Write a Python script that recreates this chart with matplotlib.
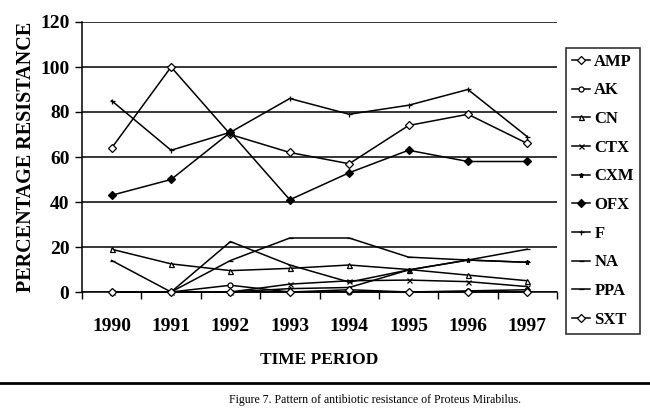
import matplotlib
matplotlib.use("Agg")
import matplotlib.pyplot as plt
from matplotlib.ticker import FixedLocator

years = ["1990", "1991", "1992", "1993", "1994", "1995", "1996", "1997"]

AMP = [64, 100, 70, 62, 57, 74, 79, 66]
AK = [0, 0, 3, 0, 0, 0, 0.5, 1]
CN = [19, 12.5, 9.5, 10.5, 12, 10, 7.5, 5]
CTX = [0, 0, 0, 3.5, 5, 5.3, 4.6, 2.4]
CXM = [0, 0, 0, 1.5, 2, 9.8, 14.2, 13.2]
OFX = [43, 50, 71, 41, 53, 63, 58, 58]
F = [85, 63, 71, 86, 79, 83, 90, 69]
NA = [14, 0, 22.4, 12, 4.4, 9.8, 14.2, 19]
PPA = [0, 0, 14, 24, 24, 15.5, 14.2, 13.2]
SXT = [0, 0, 0, 0, 1, 0, 0, 0]

series = [
    ("AMP", AMP, "D", "white"),
    ("AK", AK, "o", "white"),
    ("CN", CN, "^", "white"),
    ("CTX", CTX, "x", "black"),
    ("CXM", CXM, "*", "black"),
    ("OFX", OFX, "D", "black"),
    ("F", F, "+", "black"),
    ("NA", NA, "_", "black"),
    ("PPA", PPA, "_", "black"),
    ("SXT", SXT, "D", "white"),
]

plt.rcParams["font.family"] = ["Liberation Serif", "DejaVu Serif"]

fig = plt.figure(figsize=(6.5, 4.11), dpi=100)
ax = fig.add_axes([82 / 650, 1 - 292 / 411, (557 - 82) / 650, (292 - 22) / 411])

x = list(range(len(years)))
for name, vals, mk, fc in series:
    ax.plot(x, vals, color="black", lw=1.1, marker=mk, markersize=3.6,
            markerfacecolor=fc, markeredgecolor="black", markeredgewidth=0.9,
            label=name, clip_on=False, zorder=3)

ax.set_xlim(-0.5, len(years) - 0.5)
ax.set_ylim(0, 120)
ax.set_yticks([0, 20, 40, 60, 80, 100, 120])
ax.set_xticks(x)
ax.set_xticklabels(years, fontsize=14, fontweight="bold")
ax.xaxis.set_minor_locator(FixedLocator([i - 0.5 for i in range(len(years) + 1)]))
ax.tick_params(axis="x", which="major", length=0, pad=19)
ax.tick_params(axis="x", which="minor", length=5, width=1, direction="out")
ax.tick_params(axis="y", length=5, width=1, direction="out", pad=4)
for lab in ax.get_yticklabels():
    lab.set_fontsize(14)
    lab.set_fontweight("bold")

ax.grid(axis="y", color="black", lw=1.1)
ax.set_axisbelow(True)
for s in ["top", "right"]:
    ax.spines[s].set_visible(False)
ax.spines["left"].set_linewidth(1.1)
ax.spines["bottom"].set_linewidth(1.1)

ax.set_ylabel("PERCENTAGE RESISTANCE", fontsize=14.5, fontweight="bold", labelpad=3)
ax.set_xlabel("TIME PERIOD", fontsize=12.5, fontweight="bold", labelpad=12)

leg = fig.legend(loc="upper left", bbox_to_anchor=(566 / 650, 1 - 48 / 411),
                 frameon=True, fancybox=False, edgecolor="black",
                 prop={"family": "Liberation Serif", "weight": "bold", "size": 12},
                 handlelength=1.1, handletextpad=0.25, labelspacing=0.76,
                 borderpad=0.35, borderaxespad=0)
leg.get_frame().set_linewidth(1.2)

fig.add_artist(plt.Line2D([0, 1], [1 - 383 / 411, 1 - 383 / 411], color="black",
                          lw=2, transform=fig.transFigure))
fig.text(375 / 650, 1 - 400 / 411, "Figure 7. Pattern of antibiotic resistance of Proteus Mirabilus.",
         ha="center", va="center", fontsize=8.5)

fig.savefig("out.png", dpi=100, facecolor="white")
